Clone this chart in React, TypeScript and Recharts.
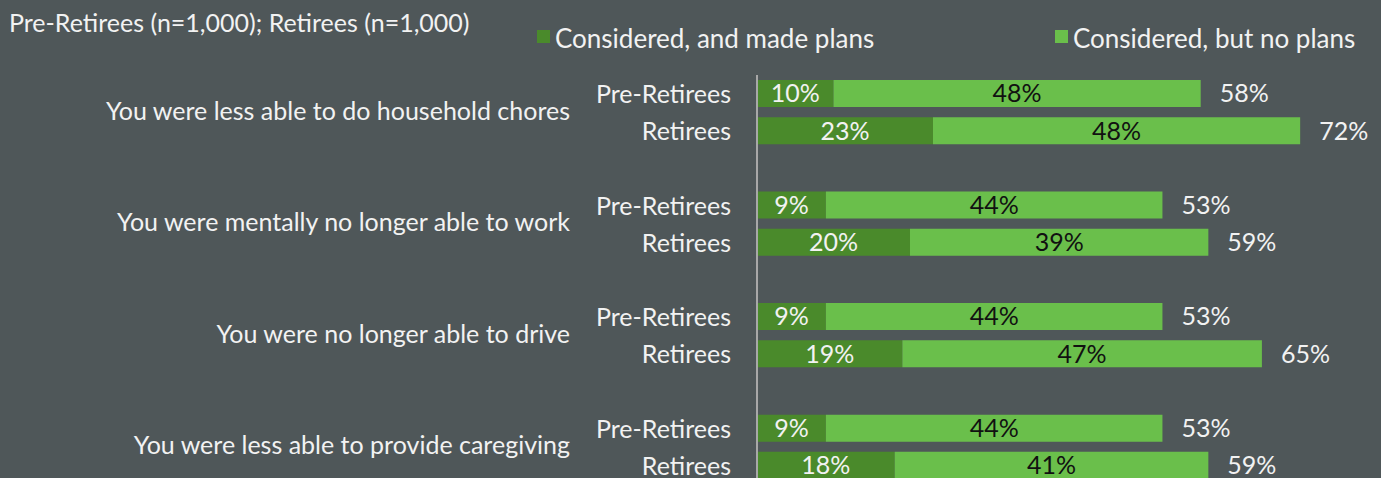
import { BarChart, Bar, XAxis, YAxis, LabelList } from "recharts";

const categories = [
  "You were less able to do household chores",
  "You were mentally no longer able to work",
  "You were no longer able to drive",
  "You were less able to provide caregiving",
];
const groups = ["Pre-Retirees", "Retirees"];
// [pre-retirees, retirees] for each category
const madePlans = [
  [10, 23],
  [9, 20],
  [9, 19],
  [9, 18],
];
const noPlans = [
  [48, 48],
  [44, 39],
  [44, 47],
  [44, 41],
];
const totals = [
  [58, 72],
  [53, 59],
  [53, 65],
  [53, 59],
];
const seriesNames = ["Considered, and made plans", "Considered, but no plans"];

const BG = "#4f5759";
const DARK = "#4a8a2b";
const LIGHT = "#6abf4b";
const TEXT = "#f2f2f2";
const FONT = "Lato, 'Open Sans', sans-serif";

interface Row {
  key: string;
  group: string;
  category: string;
  first: boolean;
  made?: number;
  none?: number;
  total?: number;
}

// two bars per category, then an empty row as a gap
const rows: Row[] = [];
categories.forEach((category, i) => {
  groups.forEach((group, j) => {
    rows.push({
      key: `${i}-${j}`,
      group,
      category,
      first: j === 0,
      made: madePlans[i][j],
      none: noPlans[i][j],
      total: totals[i][j],
    });
  });
  if (i < categories.length - 1) {
    rows.push({ key: `${i}-gap`, group: "", category: "", first: false });
  }
});

const pct = (v: any) => (v == null ? "" : `${v}%`);

const GroupTick = (props: any) => {
  const { x, y, payload } = props;
  const row = rows.find((r) => r.key === payload.value);
  if (!row || !row.group) return null;
  return (
    <g>
      <text x={x} y={y} dy={9.5} textAnchor="end" fill={TEXT} fontSize={25} fontFamily={FONT}>
        {row.group}
      </text>
      {row.first && (
        <text x={570} y={y + 18.5} dy={7.5} textAnchor="end" fill={TEXT} fontSize={25} fontFamily={FONT}>
          {row.category}
        </text>
      )}
    </g>
  );
};

const legendItem = (name: string, color: string, left: number) => (
  <span
    key={name}
    style={{ position: "absolute", left, top: 0, height: 26, lineHeight: "26px", whiteSpace: "nowrap" }}
  >
    <span
      style={{
        position: "absolute",
        left: 0,
        top: 5.5,
        width: 13,
        height: 13,
        background: color,
      }}
    />
    <span style={{ position: "absolute", left: 18, top: 0 }}>{name}</span>
  </span>
);

export default function App() {
  return (
    <div
      style={{
        position: "absolute",
        top: 0,
        left: 0,
        width: 1381,
        height: 478,
        overflow: "hidden",
        background: BG,
        fontFamily: FONT,
        color: TEXT,
      }}
    >
      <div style={{ position: "absolute", left: 9, top: 9.5, fontSize: 25, lineHeight: "25px", whiteSpace: "nowrap" }}>
        Pre-Retirees (n=1,000); Retirees (n=1,000)
      </div>
      <div style={{ position: "absolute", left: 0, top: 24.5, width: 1381, fontSize: 26 }}>
        {legendItem(seriesNames[0], DARK, 537)}
        {legendItem(seriesNames[1], LIGHT, 1055)}
      </div>
      <BarChart
        width={1381}
        height={484}
        data={rows}
        layout="vertical"
        barCategoryGap={5}
        margin={{ top: 75, right: 12, bottom: 0, left: 0 }}
        style={{ position: "absolute", left: 0, top: 0 }}
      >
        <XAxis type="number" domain={[0, 80]} hide />
        <YAxis
          type="category"
          dataKey="key"
          width={757}
          axisLine={{ stroke: "#a8a8a8", strokeWidth: 2 }}
          tickLine={false}
          tick={<GroupTick />}
          tickMargin={20}
          interval={0}
        />
        <Bar dataKey="made" name={seriesNames[0]} stackId="a" fill={DARK} barSize={27} isAnimationActive={false}>
          <LabelList
            dataKey="made"
            position="center"
            formatter={pct}
            fill={TEXT}
            fontSize={25}
            fontFamily={FONT}
          />
        </Bar>
        <Bar dataKey="none" name={seriesNames[1]} stackId="a" fill={LIGHT} barSize={27} isAnimationActive={false}>
          <LabelList
            dataKey="none"
            position="center"
            formatter={pct}
            fill="#111111"
            fontSize={25}
            fontFamily={FONT}
          />
          <LabelList
            dataKey="total"
            position="right"
            offset={19}
            formatter={pct}
            fill={TEXT}
            fontSize={25}
            fontFamily={FONT}
          />
        </Bar>
      </BarChart>
    </div>
  );
}
